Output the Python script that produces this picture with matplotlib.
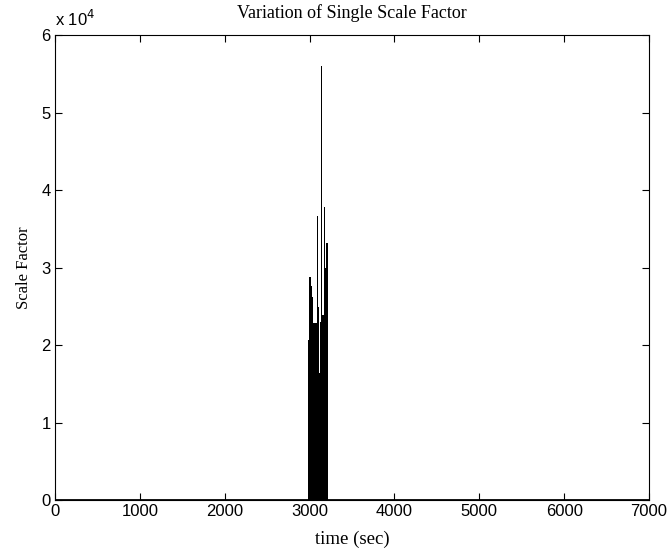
import matplotlib.pyplot as plt
import numpy as np
from matplotlib.ticker import FuncFormatter

# baseline (signal is zero outside the burst)
time_base = [0, 7000]
scale_base = [0, 0]

# burst around t = 3000..3220 s, one sample per ~12 s
time_burst = [2992, 3004, 3016, 3028, 3040, 3052, 3063, 3075, 3087, 3099,
              3111, 3122, 3134, 3146, 3158, 3170, 3181, 3193, 3205, 3216]
scale_burst = [20600, 28800, 28800, 27600, 26200, 22800, 22800, 22800, 22800, 36600,
               24900, 16400, 23000, 56000, 23900, 23900, 37800, 30000, 33100, 33100]

x_ticks = [0, 1000, 2000, 3000, 4000, 5000, 6000, 7000]
y_ticks = [0, 10000, 20000, 30000, 40000, 50000, 60000]

tick_font = ['Liberation Sans Narrow', 'Liberation Sans', 'DejaVu Sans']
serif_font = ['Liberation Serif', 'DejaVu Serif']

fig = plt.figure(figsize=(6.68, 5.56), dpi=100)
ax = fig.add_axes([0.0823, 0.1007, 0.8893, 0.8363])

ax.plot(time_base, scale_base, color='k', linewidth=2.0, solid_capstyle='butt')
ax.bar(time_burst, scale_burst, width=12, color='k', linewidth=0, align='center')

ax.set_xlim(0, 7000)
ax.set_ylim(0, 60000)
ax.set_xticks(x_ticks)
ax.set_yticks(y_ticks)
ax.yaxis.set_major_formatter(FuncFormatter(lambda v, p: '%d' % round(v / 1e4)))

ax.tick_params(direction='in', length=5, width=0.8, top=True, right=True,
               labelsize=12, pad=3)
for lab in ax.get_xticklabels() + ax.get_yticklabels():
    lab.set_family(tick_font)
for s in ax.spines.values():
    s.set_linewidth(0.8)

ax.text(0.0, 1.012, 'x 10$^4$', transform=ax.transAxes, fontsize=12,
        family=tick_font, ha='left', va='bottom')

ax.set_title('Variation of Single Scale Factor', family=serif_font, fontsize=13, pad=12)
ax.set_xlabel('time (sec)', family=serif_font, fontsize=13.5, labelpad=8)
ax.set_ylabel('Scale Factor', family=serif_font, fontsize=12, labelpad=7)

fig.savefig('out.png', dpi=100)
